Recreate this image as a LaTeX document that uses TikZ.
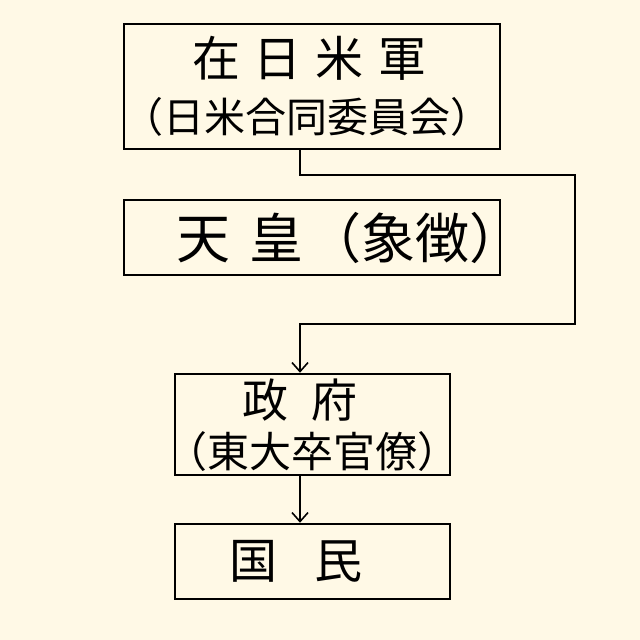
\documentclass[tikz,border=0pt]{standalone}
\usepackage{fontspec}
\newfontfamily\jp{Noto Sans CJK JP}
\usetikzlibrary{arrows.meta}
\definecolor{bgcream}{RGB}{255,249,230}
\tikzset{
  box/.style={draw=black, line width=2.5pt, rectangle, inner sep=0pt},
  lbl/.style={inner sep=0pt, font=\jp},
  conn/.style={draw=black, line width=2pt},
  arr/.style={conn, -{Straight Barb[length=9pt,width=16pt,line width=1.6pt]}}
}
\begin{document}
\begin{tikzpicture}[x=1pt,y=-1pt]
\useasboundingbox (0,0) rectangle (640,640);
\fill[bgcream] (0,0) rectangle (640,640);
\node[box, minimum width=376pt, minimum height=125pt] (b1) at (312,86.5) {};
\node[box, minimum width=376pt, minimum height=75pt] (b2) at (312,237.5) {};
\node[box, minimum width=275pt, minimum height=101pt] (b3) at (312.5,424.5) {};
\node[box, minimum width=275pt, minimum height=75pt] (b4) at (312.5,561.5) {};
\node[lbl] (t1a) at (309,58) {\fontsize{48pt}{52pt}\selectfont 在\hspace{14pt}日\hspace{14pt}米\hspace{14pt}軍};
\node[lbl] (t1b) at (307,117) {\fontsize{41pt}{45pt}\selectfont （日米合同委員会）};
\node[lbl] (t2) at (350,238) {\fontsize{54pt}{58pt}\selectfont 天\hspace{20pt}皇\hspace{4pt}（象徴）};
\node[lbl] (t3a) at (300,400) {\fontsize{46pt}{50pt}\selectfont 政\hspace{24pt}府};
\node[lbl] (t3b) at (312,452) {\fontsize{42pt}{46pt}\selectfont （東大卒官僚）};
\node[lbl] (t4) at (296,561) {\fontsize{48pt}{52pt}\selectfont 国\hspace{38pt}民};
\coordinate (ax) at (300,0);
\coordinate (c1) at (575,175);
\coordinate (c2) at (575,324);
\draw[arr] (b1.south -| ax) |- (c1) -- (c2) -| (b3.north -| ax);
\draw[arr] (b3.south -| ax) -- (b4.north -| ax);
\end{tikzpicture}
\end{document}
